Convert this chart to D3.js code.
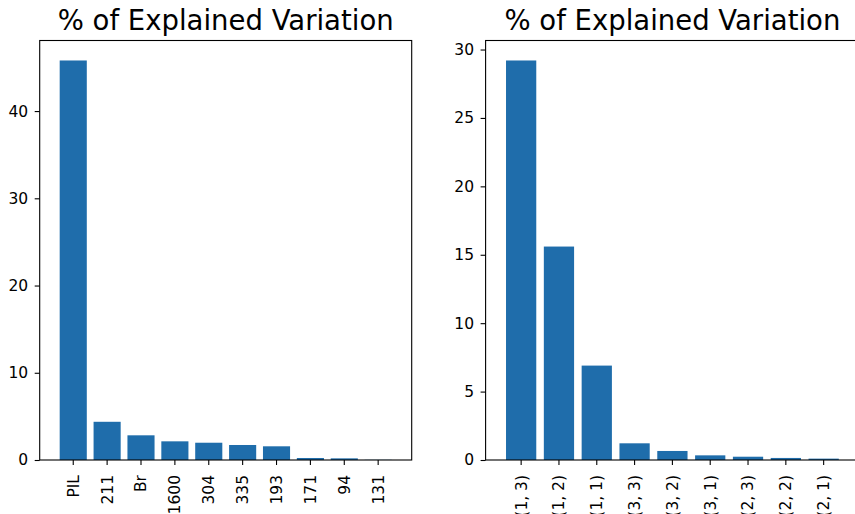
<!DOCTYPE html>
<html>
<head>
<meta charset="utf-8">
<script src="https://cdn.jsdelivr.net/npm/d3@7/dist/d3.min.js"></script>
<style>
  html, body { margin: 0; padding: 0; background: #ffffff; }
  svg { display: block; font-family: "DejaVu Sans", sans-serif; }
</style>
</head>
<body>
<svg id="chart" width="855" height="514"></svg>
<script>
// Left panel: explained variation per channel
const channelLabels = ["PIL", "211", "Br", "1600", "304", "335", "193", "171", "94", "131"];
const channelValues = [45.8, 4.38, 2.83, 2.14, 1.98, 1.72, 1.57, 0.23, 0.19, 0.02];
const channelTicks = [0, 10, 20, 30, 40];

// Right panel: explained variation per index pair
const pairLabels = ["(1, 3)", "(1, 2)", "(1, 1)", "(3, 3)", "(3, 2)", "(3, 1)", "(2, 3)", "(2, 2)", "(2, 1)"];
const pairValues = [29.2, 15.6, 6.9, 1.22, 0.66, 0.34, 0.24, 0.15, 0.1];
const pairTicks = [0, 5, 10, 15, 20, 25, 30];

const titleText = "% of Explained Variation";
const barColor = "#1f6dab";
const tickFont = "15.5px";
const svg = d3.select("#chart");

function panel(opts) {
  const { left, right, top, bottom, labels, values, ticks } = opts;
  const n = labels.length;
  const g = svg.append("g");

  // bars of width 0.8 with a 5% data margin on each side
  const x = d3.scaleBand()
    .domain(labels)
    .range([left, right])
    .paddingInner(0.2)
    .paddingOuter(0.05 * (n - 0.2) + 0.1)
    .align(0.5);

  const yMax = d3.max(values) * 1.05;
  const y = d3.scaleLinear().domain([0, yMax]).range([bottom, top]);

  g.selectAll("rect.bar")
    .data(values)
    .enter().append("rect")
    .attr("class", "bar")
    .attr("x", (d, i) => x(labels[i]))
    .attr("width", x.bandwidth())
    .attr("y", d => y(d))
    .attr("height", d => y(0) - y(d))
    .attr("fill", barColor);

  // y axis
  const yAxis = d3.axisLeft(y).tickValues(ticks).tickSize(5).tickPadding(6.5).tickFormat(d3.format("d"));
  const ya = g.append("g").attr("transform", `translate(${left},0)`).call(yAxis);
  ya.select(".domain").remove();
  ya.selectAll(".tick line").attr("stroke", "#000").attr("stroke-width", 1.1);
  ya.selectAll(".tick text")
    .attr("fill", "#000")
    .attr("font-size", tickFont)
    .attr("font-family", "DejaVu Sans, sans-serif");

  // x axis with rotated category labels
  const xAxis = d3.axisBottom(x).tickSize(5).tickPadding(0);
  const xa = g.append("g").attr("transform", `translate(0,${bottom})`).call(xAxis);
  xa.select(".domain").remove();
  xa.selectAll(".tick line").attr("stroke", "#000").attr("stroke-width", 1.1);
  xa.selectAll(".tick text")
    .attr("fill", "#000")
    .attr("font-size", tickFont)
    .attr("font-family", "DejaVu Sans, sans-serif")
    .attr("transform", "translate(0,15) rotate(-90)")
    .attr("x", 0)
    .attr("y", 0)
    .attr("dy", "0.35em")
    .attr("text-anchor", "end");

  // frame
  g.append("rect")
    .attr("x", left).attr("y", top)
    .attr("width", right - left).attr("height", bottom - top)
    .attr("fill", "none").attr("stroke", "#000").attr("stroke-width", 1.1);

  // title
  g.append("text")
    .attr("x", (left + right) / 2)
    .attr("y", top - 11)
    .attr("text-anchor", "middle")
    .attr("font-size", "27.5px")
    .attr("fill", "#000")
    .text(titleText);
}

panel({ left: 39.7, right: 411.7, top: 40.5, bottom: 460, labels: channelLabels, values: channelValues, ticks: channelTicks });
panel({ left: 485.6, right: 859.2, top: 40.5, bottom: 460, labels: pairLabels, values: pairValues, ticks: pairTicks });
</script>
</body>
</html>
